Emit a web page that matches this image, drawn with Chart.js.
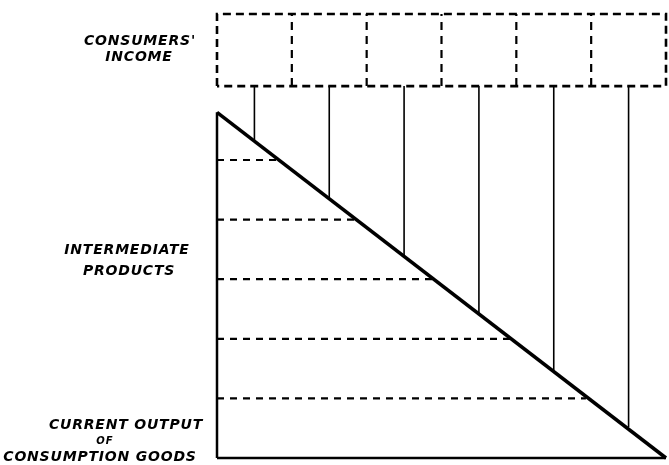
<!DOCTYPE html>
<html lang="en">
<head>
    <meta charset="UTF-8">
    <title>Consumers' Income and Intermediate Products</title>
    <script src="https://cdn.jsdelivr.net/npm/chart.js"></script>
    <style>
        body {
            margin: 0;
            background: #fff;
        }
        #chart-container {
            position: relative;
            width: 669px;
            height: 465px;
        }
    </style>
</head>
<body>
    <div id="chart-container">
        <canvas id="triangle-chart"></canvas>
    </div>

    <script>
        // stages of production (horizontal dashed levels) and where they meet the diagonal
        const stageLevels = [1, 2, 3, 4, 5];
        const stageEnds = [4.93, 3.92, 2.91, 1.88, 0.83];
        // consumers' income lines (solid verticals) and where they meet the diagonal
        const incomeX = [0.5, 1.5, 2.5, 3.5, 4.5, 5.5];
        const incomeEnds = [5.32, 4.36, 3.39, 2.43, 1.47, 0.52];
        // dashed income box
        const boxDividers = [1, 2, 3, 4, 5];
        const boxBottom = 6.24;
        const boxTop = 7.45;
        // triangle
        const apexY = 5.8;
        const baseEnd = 6;

        const leftLabels = [
            ["CONSUMERS'", "INCOME"],
            ["INTERMEDIATE", "PRODUCTS"],
            ["CURRENT OUTPUT", "OF", "CONSUMPTION GOODS"]
        ];

        const ink = '#000';
        const datasets = [];

        function addLine(points, width, dash) {
            datasets.push({
                data: points,
                showLine: true,
                borderColor: ink,
                borderWidth: width,
                borderDash: dash || [],
                pointRadius: 0,
                fill: false,
                clip: false
            });
        }

        // triangle
        addLine([{x: 0, y: 0}, {x: 0, y: apexY}], 2.5);
        addLine([{x: 0, y: 0}, {x: baseEnd, y: 0}], 2.5);
        addLine([{x: 0, y: apexY}, {x: baseEnd, y: 0}], 3.5);

        // horizontal dashed stages
        stageLevels.forEach((lv, i) => {
            addLine([{x: 0, y: lv}, {x: stageEnds[i], y: lv}], 2.2, [7, 6]);
        });

        // vertical income lines
        incomeX.forEach((x, i) => {
            addLine([{x: x, y: boxBottom}, {x: x, y: incomeEnds[i]}], 1.6);
        });

        // dashed box outline
        addLine([{x: 0, y: boxBottom}, {x: 0, y: boxTop}, {x: baseEnd, y: boxTop},
                 {x: baseEnd, y: boxBottom}, {x: 0, y: boxBottom}], 2.6, [8, 5]);
        boxDividers.forEach(x => {
            addLine([{x: x, y: boxBottom}, {x: x, y: boxTop}], 2.2, [8, 6]);
        });

        const labelPlugin = {
            id: 'leftLabels',
            afterDraw(chart) {
                const c = chart.ctx;
                const spots = [
                    [[140, 41], [139, 57]],
                    [[127, 250], [129, 271]],
                    [[126, 425], [105, 441], [100, 457]]
                ];
                c.save();
                c.fillStyle = ink;
                c.textAlign = 'center';
                c.textBaseline = 'middle';
                leftLabels.forEach((group, g) => {
                    group.forEach((txt, k) => {
                        const small = txt === 'OF';
                        c.font = (small ? 'italic bold 10px' : 'italic bold 14px') + ' "DejaVu Sans"';
                        c.letterSpacing = small ? '1px' : '0.8px';
                        c.fillText(txt, spots[g][k][0], spots[g][k][1]);
                    });
                });
                c.restore();
            }
        };

        const ctx = document.getElementById('triangle-chart').getContext('2d');
        new Chart(ctx, {
            type: 'scatter',
            data: { datasets: datasets },
            options: {
                responsive: true,
                maintainAspectRatio: false,
                animation: false,
                layout: {
                    padding: { left: 217, right: 3, top: 11, bottom: 7 }
                },
                plugins: {
                    legend: { display: false },
                    tooltip: { enabled: false }
                },
                scales: {
                    x: { type: 'linear', min: 0, max: 6, display: false },
                    y: { type: 'linear', min: 0, max: 7.5, display: false }
                }
            },
            plugins: [labelPlugin]
        });
    </script>
</body>
</html>
